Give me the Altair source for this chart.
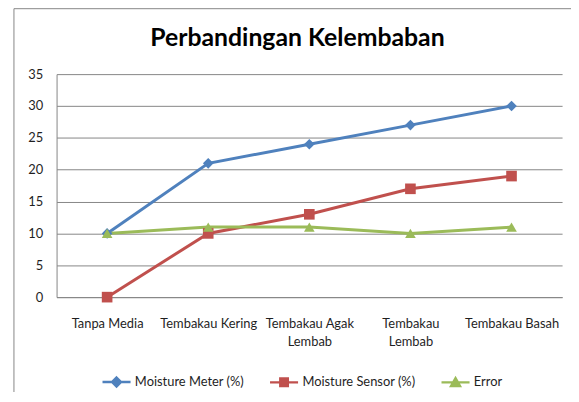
import altair as alt
import pandas as pd

categories = ["Tanpa Media", "Tembakau Kering", "Tembakau Agak Lembab", "Tembakau Lembab", "Tembakau Basah"]
series_names = ["Moisture Meter (%)", "Moisture Sensor (%)", "Error"]
moisture_meter = [10, 21, 24, 27, 30]
moisture_sensor = [0, 10, 13, 17, 19]
error = [10, 11, 11, 10, 11]
colors = ["#4F81BD", "#C0504D", "#9BBB59"]
plot_shapes = ["diamond", "square", "triangle-up"]
legend_shapes = [
    "M-1,0H1M0,-0.32L0.32,0L0,0.32L-0.32,0Z",
    "M-1,0H1M-0.27,-0.27H0.27V0.27H-0.27Z",
    "M-1,0H1M0,-0.3L0.32,0.26H-0.32Z",
]
y_ticks = [0, 5, 10, 15, 20, 25, 30, 35]

rows = []
for name, vals in zip(series_names, [moisture_meter, moisture_sensor, error]):
    for c, v in zip(categories, vals):
        rows.append({"kategori": c, "nilai": v, "seri": name})
df = pd.DataFrame(rows)

FONT = "Lato"
GRAY = "#868686"
TXT = "#1f1f1f"

label_expr = ("datum.value == 'Tembakau Agak Lembab' ? ['Tembakau Agak', 'Lembab'] : "
              "datum.value == 'Tembakau Lembab' ? ['Tembakau', 'Lembab'] : datum.value")

x_enc = alt.X("kategori:N", sort=categories,
              scale=alt.Scale(type="point", padding=0.5),
              axis=alt.Axis(title=None, labelAngle=0, ticks=False, domainColor=GRAY,
                            labelFont=FONT, labelFontSize=13, labelColor=TXT,
                            labelPadding=21, labelExpr=label_expr, labelLineHeight=18,
                            grid=False))
y_enc = alt.Y("nilai:Q", scale=alt.Scale(domain=[0, 35], nice=False),
              axis=alt.Axis(title=None, values=y_ticks, ticks=False, grid=True,
                            gridColor=GRAY, domainColor=GRAY, labelFont=FONT,
                            labelFontSize=13, labelColor=TXT, labelPadding=14))

color_scale = alt.Scale(domain=series_names, range=colors)

base = alt.Chart(df)

frame = alt.Chart(pd.DataFrame({"a": [0]})).mark_rect(
    fillOpacity=0, stroke=GRAY, strokeWidth=1
).encode(x=alt.value(-43), x2=alt.value(700), y=alt.value(-66), y2=alt.value(500))

lines = base.mark_line(strokeWidth=3).encode(
    x=x_enc, y=y_enc,
    color=alt.Color("seri:N", scale=color_scale, legend=None),
)

points = base.mark_point(filled=True, opacity=1, size=115).encode(
    x=x_enc, y=y_enc,
    color=alt.Color("seri:N", scale=color_scale, legend=None),
    shape=alt.Shape("seri:N", scale=alt.Scale(domain=series_names, range=plot_shapes), legend=None),
)

leg = alt.Legend(title=None, orient="none", legendX=45, legendY=295, direction="horizontal",
                 columns=3, columnPadding=20, symbolSize=800, symbolStrokeWidth=2.4,
                 symbolOpacity=1, labelFont=FONT, labelFontSize=13, labelColor=TXT,
                 labelOffset=3)

legend_layer = base.mark_point(filled=True, opacity=0).encode(
    x=x_enc, y=y_enc,
    color=alt.Color("seri:N", scale=color_scale, legend=leg),
    stroke=alt.Stroke("seri:N", scale=color_scale, legend=leg),
    shape=alt.Shape("seri:N", scale=alt.Scale(domain=series_names, range=legend_shapes), legend=leg),
)

chart = alt.layer(frame, lines, points, legend_layer).resolve_scale(
    color="independent", shape="independent", stroke="independent"
).properties(
    width=510, height=225,
    autosize=alt.AutoSizeParams(type="none"),
    padding={"left": 49, "top": 65, "right": 9, "bottom": 94},
    title=alt.TitleParams("Perbandingan Kelembaban", font=FONT, fontSize=25,
                          fontWeight="bold", color="#000000", anchor="middle",
                          frame="group", baseline="alphabetic",
                          dx=-12, dy=89, offset=26),
    background="white",
).configure_view(stroke=None)

chart.save("out.html", embed_options={"renderer": "svg", "actions": False})
